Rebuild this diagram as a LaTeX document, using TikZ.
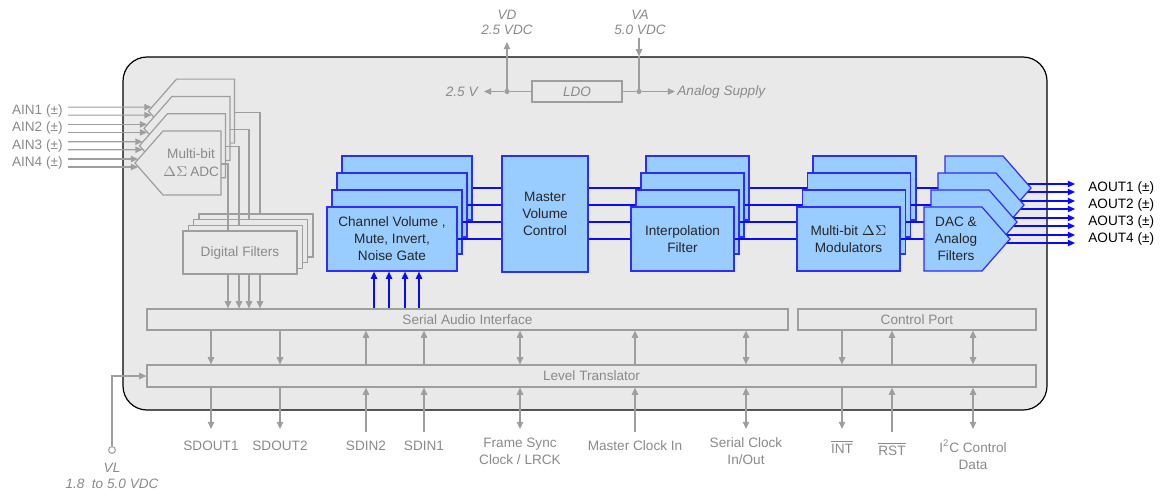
\documentclass[tikz,border=0pt]{standalone}
\usepackage{fontspec}
\setmainfont{Liberation Sans}
\usetikzlibrary{arrows.meta}

\definecolor{chipgray}{RGB}{233,233,233}
\definecolor{wiregray}{RGB}{158,158,158}
\definecolor{labelgray}{RGB}{138,138,138}
\definecolor{blockblue}{RGB}{153,204,255}
\definecolor{edgeblue}{RGB}{45,45,250}
\definecolor{wireblue}{RGB}{10,10,255}

\newcommand{\chipfont}{\fontsize{6.8}{8.5}\selectfont}

\begin{document}
\begin{tikzpicture}[
    x=0.5pt, y=-0.5pt,
    >={Triangle[length=3.6pt,width=3.2pt]},
    font=\chipfont,
    gwire/.style = {draw=wiregray, line width=0.6pt},
    bwire/.style = {draw=wireblue, line width=0.6pt},
    gbox/.style = {
      draw=wiregray,
      fill=chipgray,
      line width=0.6pt,
      text=labelgray,
      inner sep=0pt
    },
    bbox/.style = {
      draw=edgeblue,
      fill=blockblue,
      line width=0.6pt,
      text=black!85,
      align=center,
      inner sep=0pt
    },
    chsize/.style = {minimum width=65pt, minimum height=32pt},
    stagesize/.style = {minimum width=51.5pt, minimum height=32pt},
    lbl/.style = {text=labelgray, align=center, inner sep=0pt},
    ital/.style = {font=\chipfont\itshape},
    dot/.style = {
      circle,
      fill=wiregray,
      inner sep=0pt,
      minimum size=2.6pt
    }
  ]
  \useasboundingbox (0,0) rectangle (1165,495);

  % chip outline
  \node[draw=black, fill=chipgray, line width=0.6pt, rounded corners=12pt,
        minimum width=462pt, minimum height=176.5pt, inner sep=0pt] (chip) at (585,233.5) {};

  % supplies and LDO
  \node[gbox, ital, minimum width=45pt, minimum height=10.5pt] (ldo) at (577,91.5) {LDO};
  \node[dot] (vdtap) at (507,91.5) {};
  \node[dot] (vatap) at (639,91.5) {};
  \node[lbl, ital, anchor=east, inner sep=3pt] (corev) at (484,91.5) {2.5 V};
  \node[lbl, ital, anchor=west, inner sep=1pt] (asupply) at (675,91.5) {Analog Supply};
  \node[lbl, font=\fontsize{6.8}{7.6}\selectfont\itshape] (vd) at (507,22.5) {VD\\2.5 VDC};
  \node[lbl, font=\fontsize{6.8}{7.6}\selectfont\itshape] (va) at (640,22.5) {VA\\5.0 VDC};
  \coordinate (vdend) at (507,42);
  \coordinate (vaend) at (639,38);

  \draw[gwire] (ldo.west) -- (vdtap);
  \draw[gwire,->] (vdtap) -- (corev.east);
  \draw[gwire,->] (vdtap) -- (vdend);
  \draw[gwire] (ldo.east) -- (vatap);
  \draw[gwire,->] (vatap) -- (asupply.west);
  \draw[gwire,->] (vaend) -- (vaend |- chip.north);
  \draw[gwire] (vaend |- chip.north) -- (vatap);

  % buses
  \node[gbox, minimum width=320.5pt, minimum height=10.5pt] (sai) at (467.5,319.5) {Serial Audio Interface};
  \node[gbox, minimum width=119pt, minimum height=10.5pt] (cport) at (917,319.5) {Control Port};
  \node[gbox, minimum width=444.5pt, minimum height=11pt] (lt) at (591.5,376) {Level Translator};

  % ADC stack
  \foreach \k in {3,2,1,0} {
    \begin{scope}[shift={(4.5*\k,-17.3*\k)}]
      \draw[gwire, fill=chipgray] (135,163) -- (163,131) -- (221,131) -- (221,195) -- (163,195) -- cycle;
      \coordinate (adc\k) at (135,163);
      \coordinate (adcout\k) at (221,164);
    \end{scope}
  }
  \node[lbl, font=\fontsize{6.8}{9}\selectfont] (adclabel) at (191,163) {Multi-bit\\$\Delta\Sigma\,$ADC};

  \foreach \i/\k in {1/3,2/2,3/1,4/0} {
    \node[lbl, anchor=east] (ain\i) at (63,163-17.3*\k) {AIN\i\ (±)};
    \draw[gwire,->] ([shift={(5,-4)}]ain\i.east) -- ([shift={(3,-4)}]adc\k);
    \draw[gwire,->] ([shift={(5,4)}]ain\i.east) -- ([shift={(3,4)}]adc\k);
  }

  % digital filters
  \foreach \k/\xx in {3/260,2/249,1/239,0/228} {
    \coordinate (drop\k) at (\xx,250-5.7*\k);
    \draw[gwire] (adcout\k) -| (drop\k);
    \node[gbox, minimum width=57pt, minimum height=21.5pt] (dfilt\k) at (240+5.3*\k,252.5-5.7*\k) {};
  }
  \node[lbl] (dftext) at (dfilt0) {Digital Filters};
  \foreach \k in {0,...,3}
    \draw[gwire,->] (drop\k |- dfilt0.south) -- (drop\k |- sai.north);

  % channel volume
  \foreach \k in {3,2,1}
    \node[bbox, chsize] (chvol\k) at (392+5*\k,239-17*\k) {};
  \node[bbox, chsize] (chvol0) at (392,239) {Channel Volume ,\\Mute, Invert,\\Noise Gate};
  \foreach \dx in {-18,-3,13,27}
    \draw[bwire,->] ([shift={(\dx,0)}]chvol0.south |- sai.north) -- ([shift={(\dx,0)}]chvol0.south);

  % master volume
  \node[bbox, minimum width=43pt, minimum height=58pt] (mvc) at (545,214) {Master\\Volume\\Control};
  \foreach \k in {0,...,3}
    \draw[bwire] (chvol\k.east) -- (chvol\k.east -| mvc.west);

  % interpolation
  \foreach \k in {0,...,3} {
    \coordinate (ipc\k) at (682.5+5*\k,239-17*\k);
    \draw[bwire] (mvc.east |- ipc\k) -- (ipc\k);
  }
  \foreach \k in {3,2,1}
    \node[bbox, stagesize] (interp\k) at (ipc\k) {};
  \node[bbox, stagesize] (interp0) at (ipc0) {Interpolation\\Filter};

  % modulators
  \foreach \k in {0,...,3} {
    \coordinate (mdc\k) at (848.5+5.3*\k,239-17*\k);
    \draw[bwire] (interp\k.east) -- (mdc\k);
  }
  \foreach \k in {3,2,1}
    \node[bbox, stagesize] (mod\k) at (mdc\k) {};
  \node[bbox, stagesize] (mod0) at (mdc0) {Multi-bit $\Delta\Sigma$\\Modulators};

  % DAC and outputs
  \foreach \k in {0,...,3} {
    \coordinate (dacin\k) at (940+7*\k,239-17*\k);
    \draw[bwire] (mod\k.east) -- (dacin\k);
  }
  \foreach \i/\k in {1/3,2/2,3/1,4/0}
    \node[anchor=west, inner sep=0pt] (aout\i) at (1088,239-17*\k) {AOUT\i\ (±)};
  \foreach \i/\k in {1/3,2/2,3/1,4/0} {
    \begin{scope}[shift={(7*\k,-17*\k)}]
      \coordinate (dactip\k) at (1010,239);
    \end{scope}
    \draw[bwire,->] ([shift={(-14,-4)}]dactip\k) -- ([shift={(-13,-4)}]aout\i.west);
    \draw[bwire,->] ([shift={(-14,4)}]dactip\k) -- ([shift={(-13,4)}]aout\i.west);
    \begin{scope}[shift={(7*\k,-17*\k)}]
      \draw[bbox] (924,207) -- (982,207) -- (1010,239) -- (982,271) -- (924,271) -- cycle;
    \end{scope}
  }
  \node[align=center, text=black!85] (daclabel) at (956,239) {DAC \&\\Analog\\Filters};

  % pins
  \coordinate (pinsout) at (0,429);
  \coordinate (pinsin) at (0,432);
  \node[lbl] (sdout1) at (211,446) {SDOUT1};
  \node[lbl] (sdout2) at (280,446) {SDOUT2};
  \node[lbl] (sdin2) at (366,446) {SDIN2};
  \node[lbl] (sdin1) at (424,446) {SDIN1};
  \node[lbl] (fsync) at (520,451.5) {Frame Sync\\Clock / LRCK};
  \node[lbl] (mclk) at (635,446) {Master Clock In};
  \node[lbl] (sclk) at (746,451.5) {Serial Clock\\In/Out};
  \node[lbl] (intpin) at (842,447) {$\overline{\mbox{INT}}$};
  \node[lbl] (rstpin) at (892,449) {$\overline{\mbox{RST}}$};
  \node[lbl] (i2cpin) at (973,455) {I\textsuperscript{2}C Control\\Data};

  \foreach \p in {sdout1,sdout2} {
    \draw[gwire,->] (\p |- sai.south) -- (\p |- lt.north);
    \draw[gwire,->] (\p |- lt.south) -- (\p |- pinsout);
  }
  \foreach \p in {sdin2,sdin1,mclk} {
    \draw[gwire,<-] (\p |- sai.south) -- (\p |- lt.north);
    \draw[gwire,<-] (\p |- lt.south) -- (\p |- pinsin);
  }
  \foreach \p in {fsync,sclk} {
    \draw[gwire,<->] (\p |- sai.south) -- (\p |- lt.north);
    \draw[gwire,<->] (\p |- lt.south) -- (\p |- pinsout);
  }
  \draw[gwire,->] (intpin |- cport.south) -- (intpin |- lt.north);
  \draw[gwire,->] (intpin |- lt.south) -- (intpin |- pinsout);
  \draw[gwire,<-] (rstpin |- cport.south) -- (rstpin |- lt.north);
  \draw[gwire,<-] (rstpin |- lt.south) -- (rstpin |- pinsin);
  \draw[gwire,<->] (i2cpin |- cport.south) -- (i2cpin |- lt.north);
  \draw[gwire,<->] (i2cpin |- lt.south) -- (i2cpin |- pinsout);

  % logic supply
  \node[circle, draw=wiregray, fill=white, line width=0.5pt, inner sep=0pt, minimum size=3.4pt] (vl) at (112,450) {};
  \draw[gwire,->] (vl.north) |- (lt.west);
  \node[lbl, font=\fontsize{6.8}{8}\selectfont\itshape] (vllabel) at (112,476) {VL\\1.8\ \ to 5.0 VDC};
\end{tikzpicture}
\end{document}
